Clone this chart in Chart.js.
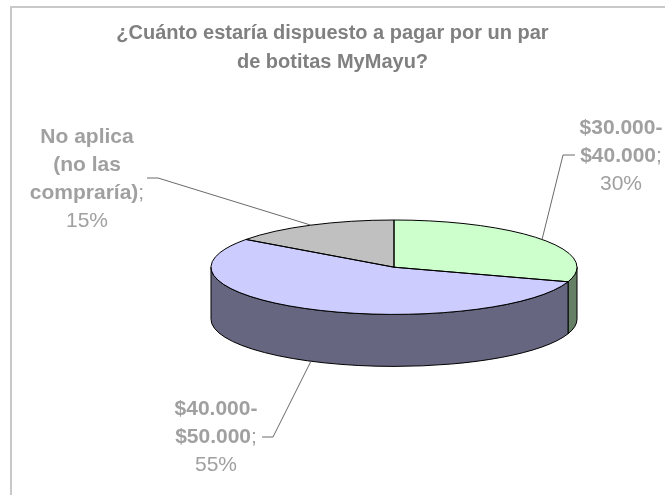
<!DOCTYPE html>
<html>
<head>
<meta charset="utf-8">
<script src="https://cdn.jsdelivr.net/npm/chart.js@4/dist/chart.umd.min.js"></script>
<style>
  html, body { margin: 0; padding: 0; background: #fff; }
  canvas { display: block; }
</style>
</head>
<body>
<canvas id="chart" width="665" height="495"></canvas>
<script>
// Survey answers
const titleLines = ['¿Cuánto estaría dispuesto a pagar por un par', 'de botitas MyMayu?'];
const categories = ['$30.000-$40.000', '$40.000-$50.000', 'No aplica (no las compraría)'];
const categoryLines = [['$30.000-', '$40.000'], ['$40.000-', '$50.000'], ['No aplica', '(no las', 'compraría)']];
const shares = [30, 55, 15];

// Styling
const topColors = ['#ccffcc', '#ccccff', '#c0c0c0'];
const sideColors = ['#668066', '#666680', '#606060'];
const FONT = '"Liberation Sans", Arial, sans-serif';
const TILT = 47.2 / 183;   // vertical squash of the pie's top face
const DEPTH = 52;          // thickness of the pie, px
const PIE_CY = 267.2;      // screen y of the top face centre

// Data label placement and the elbow of each leader line
const labelLayout = [
  { x: 621, y: 128, elbow: [563, 155], tail: [575, 155] },
  { x: 216, y: 409, elbow: [273, 437], tail: [262, 437] },
  { x: 87,  y: 137, elbow: [158, 178], tail: [147, 178] }
];

function pieGeom(chart) {
  const arcs = chart.getDatasetMeta(0).data;
  const a = arcs[0].getProps(['x', 'y', 'outerRadius'], true);
  return { arcs, cx: a.x, cyChart: a.y, r: a.outerRadius, ry: a.outerRadius * TILT, cy: PIE_CY };
}

function angles(arc) {
  return arc.getProps(['startAngle', 'endAngle'], true);
}

function drawMixedLine(ctx, parts, cx, y, size) {
  let total = 0;
  const widths = parts.map(([t, bold]) => {
    ctx.font = `${bold ? 'bold ' : ''}${size}px ${FONT}`;
    const w = ctx.measureText(t).width;
    total += w;
    return w;
  });
  let x = cx - total / 2;
  parts.forEach(([t, bold], k) => {
    ctx.font = `${bold ? 'bold ' : ''}${size}px ${FONT}`;
    ctx.fillText(t, x, y);
    x += widths[k];
  });
}

const pie3d = {
  id: 'pie3d',
  beforeDraw(chart) {
    const ctx = chart.ctx;
    ctx.save();
    ctx.fillStyle = '#fff';
    ctx.fillRect(0, 0, chart.width, chart.height);
    // chart frame
    ctx.strokeStyle = '#c8c8c8';
    ctx.lineWidth = 2;
    ctx.beginPath();
    ctx.moveTo(11, chart.height);
    ctx.lineTo(11, 7);
    ctx.lineTo(chart.width, 7);
    ctx.stroke();
    // title
    ctx.fillStyle = '#808080';
    ctx.font = `bold 20px ${FONT}`;
    ctx.textAlign = 'center';
    ctx.textBaseline = 'middle';
    titleLines.forEach((t, i) => ctx.fillText(t, chart.width / 2, 33 + i * 29));
    ctx.restore();
  },
  beforeDatasetsDraw(chart) {
    const g = pieGeom(chart);
    const ctx = chart.ctx;
    // visible (front) walls of each slice
    ctx.save();
    ctx.lineWidth = 1;
    ctx.strokeStyle = '#000';
    ctx.lineJoin = 'round';
    g.arcs.forEach((arc, i) => {
      const { startAngle, endAngle } = angles(arc);
      const a0 = Math.max(startAngle, 0);
      const a1 = Math.min(endAngle, Math.PI);
      if (a1 <= a0) return;
      ctx.beginPath();
      ctx.ellipse(g.cx, g.cy, g.r, g.ry, 0, a0, a1);
      ctx.ellipse(g.cx, g.cy + DEPTH, g.r, g.ry, 0, a1, a0, true);
      ctx.closePath();
      ctx.fillStyle = sideColors[i];
      ctx.fill();
      ctx.stroke();
    });
    ctx.restore();
    // tilt the top face drawn by the pie controller
    ctx.save();
    ctx.translate(0, g.cy);
    ctx.scale(1, TILT);
    ctx.translate(0, -g.cyChart);
  },
  afterDatasetsDraw(chart) {
    const ctx = chart.ctx;
    ctx.restore();
    const g = pieGeom(chart);
    ctx.save();
    ctx.lineWidth = 1;
    ctx.strokeStyle = '#000';
    ctx.lineJoin = 'round';
    g.arcs.forEach(arc => {
      const { startAngle, endAngle } = angles(arc);
      ctx.beginPath();
      ctx.moveTo(g.cx, g.cy);
      ctx.ellipse(g.cx, g.cy, g.r, g.ry, 0, startAngle, endAngle);
      ctx.closePath();
      ctx.stroke();
    });

    // data labels with leader lines
    const total = shares.reduce((s, v) => s + v, 0);
    ctx.textAlign = 'left';
    ctx.textBaseline = 'middle';
    g.arcs.forEach((arc, i) => {
      const { startAngle, endAngle } = angles(arc);
      const mid = (startAngle + endAngle) / 2;
      const s = Math.sin(mid);
      const px = g.cx + g.r * Math.cos(mid);
      const py = g.cy + g.ry * s + (s > 0 ? DEPTH : 0);
      const L = labelLayout[i];
      ctx.strokeStyle = '#6a6a6a';
      ctx.beginPath();
      ctx.moveTo(px, py);
      ctx.lineTo(L.elbow[0], L.elbow[1]);
      ctx.lineTo(L.tail[0], L.tail[1]);
      ctx.stroke();

      ctx.fillStyle = '#a0a0a0';
      const lines = categoryLines[i].map(t => [[t, true]]);
      lines[lines.length - 1].push([';', false]);
      lines.push([[Math.round(shares[i] / total * 100) + '%', false]]);
      lines.forEach((parts, k) => drawMixedLine(ctx, parts, L.x, L.y + k * 28, 21));
    });
    ctx.restore();
  }
};

new Chart(document.getElementById('chart'), {
  type: 'pie',
  data: {
    labels: categories,
    datasets: [{
      data: shares,
      backgroundColor: topColors,
      borderWidth: 0
    }]
  },
  options: {
    responsive: false,
    animation: false,
    events: [],
    layout: { padding: { left: 211, right: 88, top: 87, bottom: 0 } },
    plugins: {
      legend: { display: false },
      title: { display: false },
      tooltip: { enabled: false }
    }
  },
  plugins: [pie3d]
});
</script>
</body>
</html>
